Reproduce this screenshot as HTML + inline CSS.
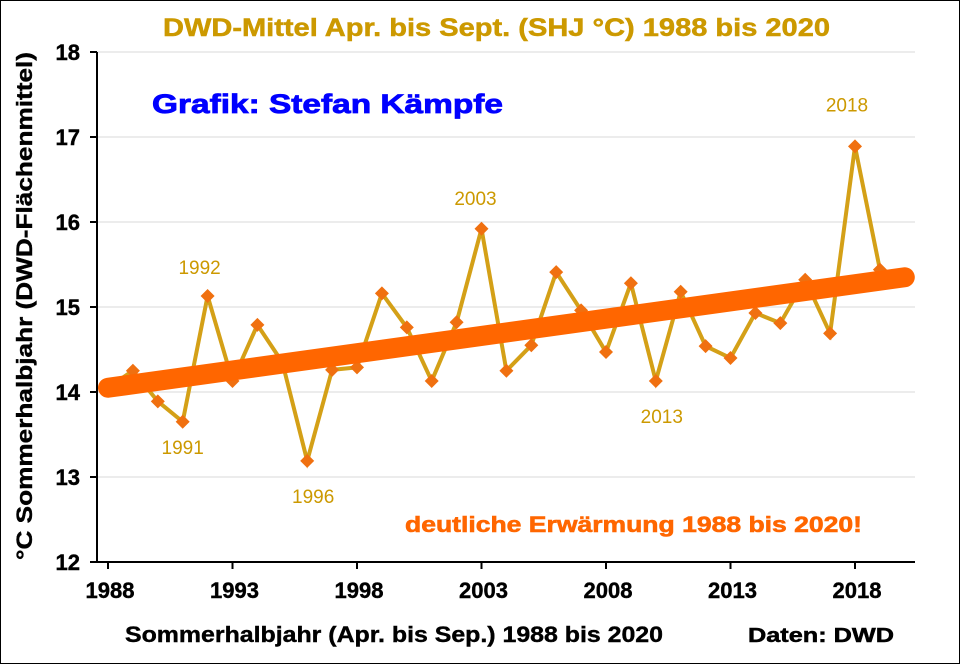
<!DOCTYPE html>
<html><head><meta charset="utf-8"><style>
body{margin:0;background:#fff;}
svg{display:block;font-family:"Liberation Sans",sans-serif;}
</style></head><body>
<svg id="c" width="960" height="664" viewBox="0 0 960 664">
<rect x="0.5" y="0.5" width="959" height="663" fill="#fff" stroke="#000"/>
<text x="163" y="36" textLength="667" lengthAdjust="spacingAndGlyphs" font-size="25" font-weight="bold" fill="#CC9900" stroke="#CC9900" stroke-width="0.5">DWD-Mittel Apr. bis Sept.  (SHJ °C) 1988 bis 2020</text>
<g id="grid"></g>
<g id="axes"></g>
<text x="152" y="113" textLength="351" lengthAdjust="spacingAndGlyphs" font-size="27" font-weight="bold" fill="#0000FF" stroke="#0000FF" stroke-width="0.8">Grafik: Stefan Kämpfe</text>
<text x="405" y="532" textLength="457" lengthAdjust="spacingAndGlyphs" font-size="22" font-weight="bold" fill="#FF6600" stroke="#FF6600" stroke-width="0.6">deutliche Erwärmung 1988 bis 2020!</text>
<g id="series"></g>
<text x="-560" y="32" transform="rotate(-90)" textLength="508" lengthAdjust="spacingAndGlyphs" font-size="22" font-weight="bold" fill="#000" stroke="#000" stroke-width="0.4">°C Sommerhalbjahr (DWD-Flächenmittel)</text>
<text x="125" y="642" textLength="538" lengthAdjust="spacingAndGlyphs" font-size="22" font-weight="bold" fill="#000" stroke="#000" stroke-width="0.4">Sommerhalbjahr (Apr. bis Sep.) 1988 bis 2020</text>
<text x="748" y="642" textLength="146" lengthAdjust="spacingAndGlyphs" font-size="20" font-weight="bold" fill="#000" stroke="#000" stroke-width="0.5">Daten: DWD</text>
</svg>
<script>
const years=[1988,1989,1990,1991,1992,1993,1994,1995,1996,1997,1998,1999,2000,2001,2002,2003,2004,2005,2006,2007,2008,2009,2010,2011,2012,2013,2014,2015,2016,2017,2018,2019,2020];
const temps=[14.05,14.25,13.89,13.65,15.13,14.13,14.79,14.35,13.19,14.26,14.29,15.16,14.76,14.13,14.82,15.92,14.25,14.55,15.41,14.96,14.47,15.28,14.13,15.18,14.54,14.4,14.93,14.81,15.32,14.69,16.89,15.44,15.35];
const yTicks=[12,13,14,15,16,17,18];
const xTicks=[1988,1993,1998,2003,2008,2013,2018];
const trend=[14.05,15.35];
const labeled=[[1991,0,32],[1992,-8,-22],[1996,6,42],[2003,-6,-24],[2010,6,42,2013],[2018,-8,-35]];
const NS="http://www.w3.org/2000/svg";
const X=y=>108+(y-1988)*24.9;
const Y=v=>562-(v-12)*85;
function mk(t,a,p){const e=document.createElementNS(NS,t);for(const k in a)e.setAttribute(k,a[k]);p.appendChild(e);return e;}
const grid=document.getElementById('grid'),axes=document.getElementById('axes'),ser=document.getElementById('series');
yTicks.forEach(v=>{
 if(v>12){const l=mk('line',{x1:97,x2:915,y1:Y(v),y2:Y(v),stroke:'#d9d9d9','stroke-width':1},grid);
 
 }
 const tk=mk('line',{x1:90,x2:97,y1:Y(v),y2:Y(v),stroke:'#000','stroke-width':2},axes);
 
 
 const t=mk('text',{x:80,y:Y(v)+8,'text-anchor':'end','font-size':22,'font-weight':'bold',stroke:'#000','stroke-width':0.4},axes);t.textContent=v;
 
 
});
mk('line',{x1:97,x2:97,y1:52,y2:562,stroke:'#000','stroke-width':2},axes);
mk('line',{x1:97,x2:915,y1:562,y2:562,stroke:'#000','stroke-width':2},axes);
xTicks.forEach(yr=>{
 const tk=mk('line',{x1:X(yr),x2:X(yr),y1:562,y2:569,stroke:'#000','stroke-width':2},axes);
 
 
 const t=mk('text',{x:X(yr)+2,y:598,'text-anchor':'middle','font-size':22,'font-weight':'bold',stroke:'#000','stroke-width':0.4},axes);t.textContent=yr;
 
 
});
const pl=mk('polyline',{points:years.map((y,i)=>X(y)+','+Y(temps[i])).join(' '),fill:'none',stroke:'#D4A017','stroke-width':4},ser);


years.forEach((y,i)=>{
 const cx=X(y),cy=Y(temps[i]);
 const d=mk('polygon',{points:`${cx},${cy-7} ${cx+7},${cy} ${cx},${cy+7} ${cx-7},${cy}`,fill:'#F07010'},ser);
 
 
});
const tl=mk('line',{x1:X(years[0]),y1:Y(trend[0]),x2:X(years[years.length-1]),y2:Y(trend[1]),stroke:'#FF6600','stroke-width':20,'stroke-linecap':'round'},ser);


labeled.forEach(([yr,dx,dy,txt])=>{
 const i=years.indexOf(yr);
 const t=mk('text',{x:X(yr)+dx,y:Y(temps[i])+dy,'text-anchor':'middle','font-size':19,fill:'#CC9900'},ser);t.textContent=txt||yr;
 
 
});
</script>
</body></html>
